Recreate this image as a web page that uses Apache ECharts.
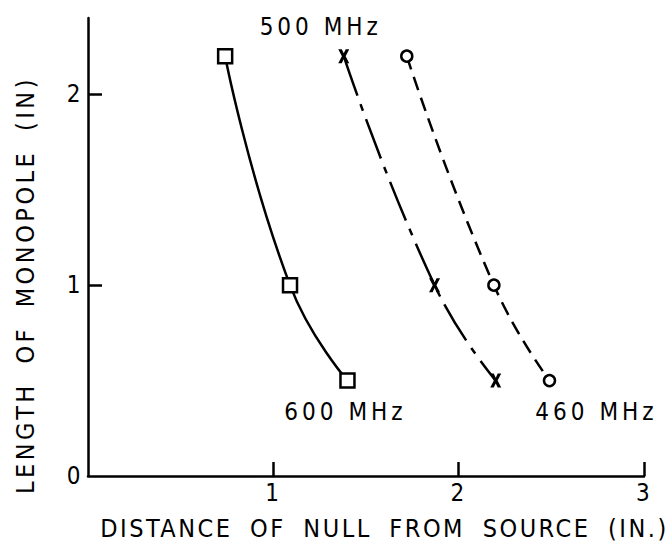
<!DOCTYPE html>
<html>
<head>
<meta charset="utf-8">
<script src="https://cdn.jsdelivr.net/npm/echarts@6/dist/echarts.min.js"></script>
<style>
  html, body { margin: 0; padding: 0; background: #fff; }
  #chart { width: 672px; height: 546px; }
  /* hand-lettered look: spread the letters out */
  #chart text { letter-spacing: 2.5px; word-spacing: 8px; }
</style>
</head>
<body>
<div id="chart"></div>
<script>
// Null position vs. monopole length, one curve per frequency
const lengths = [2.2, 1.0, 0.5];                 // length of monopole (in.)
const dist600 = [0.74, 1.09, 1.40];              // 600 MHz, squares, solid
const dist500 = [1.38, 1.87, 2.20];              // 500 MHz, crosses, dash-dot
const dist460 = [1.72, 2.19, 2.49];              // 460 MHz, circles, dashed
const seriesNames = ['600 MHz', '500 MHz', '460 MHz'];
const xTicks = [1, 2, 3];
const yTicks = [1, 2];
const yLabels = [0, 1, 2];
const xTitle = 'DISTANCE OF NULL FROM SOURCE (IN.)';
const yTitle = 'LENGTH OF MONOPOLE (IN)';

const FONT = "'DejaVu Sans Condensed', 'DejaVu Sans'";
const INK = '#000';

// small lowercase "x" marker as a filled outline
const crossPath = 'path://M0,0L3.2,0L5,3.6L6.8,0L10,0L6.7,6L10,12L6.8,12L5,8.4L3.2,12L0,12L3.3,6Z';

function pairs(xs) {
  return xs.map((x, i) => [x, lengths[i]]);
}

// attach the frequency label to one point of a curve
function labelled(data, idx, text, offset) {
  return data.map((p, i) => i !== idx ? p : {
    value: p,
    label: {
      show: true, formatter: text, position: 'bottom', offset: offset,
      color: INK, fontFamily: FONT, fontSize: 24
    }
  });
}

const chart = echarts.init(document.getElementById('chart'), null, { renderer: 'svg' });

chart.setOption({
  animation: false,
  backgroundColor: '#fff',
  grid: { left: 88, right: 28, top: 18, bottom: 69 },
  xAxis: {
    type: 'value', min: 0, max: 3,
    name: xTitle, nameLocation: 'middle', nameGap: 40,
    nameTextStyle: { color: INK, fontFamily: FONT, fontSize: 25, padding: [0, 0, 0, 37] },
    axisLine: { show: true, onZero: false, lineStyle: { color: INK, width: 2.5 } },
    axisTick: { show: true, inside: true, length: 14, customValues: xTicks, lineStyle: { color: INK, width: 2.5 } },
    axisLabel: { color: INK, fontFamily: FONT, fontSize: 24, margin: 5, customValues: xTicks },
    splitLine: { show: false }
  },
  yAxis: {
    type: 'value', min: 0, max: 2.4,
    name: yTitle, nameLocation: 'middle', nameRotate: 90, nameGap: 50,
    nameTextStyle: { color: INK, fontFamily: FONT, fontSize: 25, padding: [0, 76, 0, 0] },
    axisLine: { show: true, onZero: false, lineStyle: { color: INK, width: 2.5 } },
    axisTick: { show: true, inside: true, length: 14, customValues: yTicks, lineStyle: { color: INK, width: 2.5 } },
    axisLabel: { color: INK, fontFamily: FONT, fontSize: 24, margin: 5, customValues: yLabels },
    splitLine: { show: false }
  },
  series: [
    {
      name: seriesNames[0], type: 'line', smooth: true,
      data: labelled(pairs(dist600), 2, seriesNames[0], [-2, 6]),
      symbol: 'rect', symbolSize: 14,
      itemStyle: { color: '#fff', borderColor: INK, borderWidth: 2.5 },
      lineStyle: { color: INK, width: 2.5, type: 'solid' },
      z: 3
    },
    {
      name: seriesNames[1], type: 'line', smooth: true,
      data: labelled(pairs(dist500), 0, seriesNames[1], [-23, -53]),
      symbol: crossPath, symbolSize: [11, 14],
      itemStyle: { color: INK, borderWidth: 0 },
      lineStyle: { color: INK, width: 2.5, type: [42, 9, 7, 9] },
      z: 3
    },
    {
      name: seriesNames[2], type: 'line', smooth: true,
      data: labelled(pairs(dist460), 2, seriesNames[2], [47, 8]),
      symbol: 'circle', symbolSize: 11,
      itemStyle: { color: '#fff', borderColor: INK, borderWidth: 2.5 },
      lineStyle: { color: INK, width: 2.5, type: [14, 8] },
      z: 3
    }
  ]
});

// the vertical title is lettered a little wider; the frequency tags keep a narrow word gap
document.querySelectorAll('#chart text').forEach(t => {
  if (t.textContent === yTitle) t.style.letterSpacing = '3.5px';
  if (seriesNames.includes(t.textContent)) {
    t.style.letterSpacing = '4px';
    t.style.wordSpacing = '0px';
  }
});
</script>
</body>
</html>
